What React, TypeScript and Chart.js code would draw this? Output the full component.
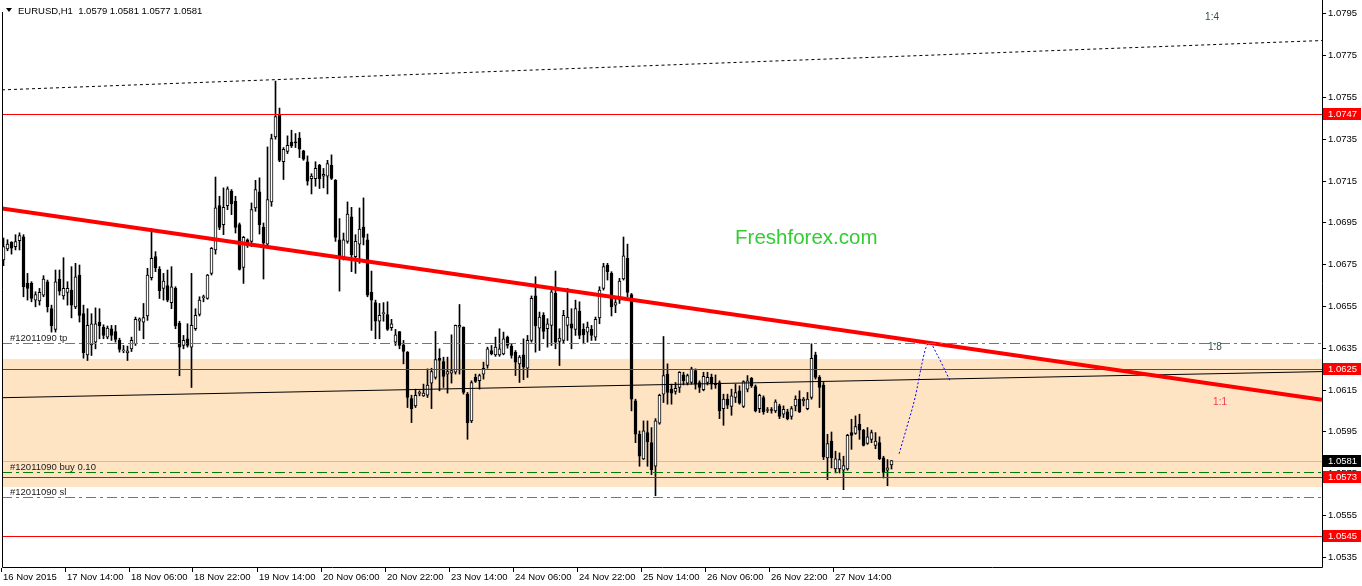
import React, { useEffect, useRef } from 'react';
import { Chart, registerables } from 'chart.js';

Chart.register(...registerables);

// ---------- data ----------
const headerText = 'EURUSD,H1  1.0579 1.0581 1.0577 1.0581';

const opens = [
  1.06770, 1.06823, 1.06855, 1.06834, 1.06863, 1.06881, 1.06658, 1.06658, 1.06578, 1.06574,
  1.06602, 1.06666, 1.06537, 1.06438, 1.06679, 1.06598, 1.06615, 1.06626, 1.06546, 1.06698,
  1.06513, 1.06316, 1.06364, 1.06377, 1.06473, 1.06449, 1.06401, 1.06441, 1.06428, 1.06385,
  1.06335, 1.06326, 1.06345, 1.06369, 1.06477, 1.06473, 1.06502, 1.06685, 1.06786, 1.06725,
  1.06634, 1.06647, 1.06566, 1.06634, 1.06468, 1.06361, 1.06393, 1.06353, 1.06441, 1.06509,
  1.06590, 1.06586, 1.06706, 1.06818, 1.07030, 1.06939, 1.07030, 1.07099, 1.07051, 1.06939,
  1.06735, 1.06867, 1.06859, 1.07019, 1.07096, 1.06928, 1.06846, 1.07048, 1.07359, 1.07465,
  1.07240, 1.07289, 1.07334, 1.07332, 1.07353, 1.07292, 1.07240, 1.07159, 1.07159, 1.07223,
  1.07171, 1.07171, 1.07223, 1.07151, 1.06867, 1.06786, 1.06859, 1.06977, 1.06786, 1.06846,
  1.06928, 1.06867, 1.06615, 1.06566, 1.06477, 1.06513, 1.06509, 1.06446, 1.06377, 1.06428,
  1.06364, 1.06329, 1.06107, 1.06072, 1.06132, 1.06120, 1.06123, 1.06181, 1.06208, 1.06300,
  1.06284, 1.06224, 1.06229, 1.06233, 1.06449, 1.06449, 1.06128, 1.06000, 1.06208, 1.06192,
  1.06224, 1.06265, 1.06337, 1.06316, 1.06316, 1.06321, 1.06401, 1.06358, 1.06329, 1.06273,
  1.06316, 1.06252, 1.06385, 1.06598, 1.06444, 1.06505, 1.06441, 1.06457, 1.06610, 1.06380,
  1.06385, 1.06457, 1.06465, 1.06438, 1.06525, 1.06438, 1.06425, 1.06438, 1.06401, 1.06493,
  1.06634, 1.06746, 1.06706, 1.06554, 1.06578, 1.06679, 1.06778, 1.06605, 1.06096, 1.05936,
  1.05818, 1.05944, 1.05896, 1.05783, 1.05989, 1.06128, 1.06224, 1.06152, 1.06141, 1.06160,
  1.06220, 1.06181, 1.06184, 1.06241, 1.06184, 1.06149, 1.06184, 1.06208, 1.06181, 1.06184,
  1.06059, 1.06104, 1.06069, 1.06112, 1.06144, 1.06069, 1.06152, 1.06204, 1.06164, 1.06059,
  1.06112, 1.06050, 1.06053, 1.06048, 1.06072, 1.06032, 1.06043, 1.06021, 1.06072, 1.06104,
  1.06096, 1.06059, 1.06112, 1.06316, 1.06208, 1.06172, 1.05823, 1.05904, 1.05770, 1.05770,
  1.05764, 1.05770, 1.05944, 1.05940, 1.05984, 1.05956, 1.05892, 1.05912, 1.05883, 1.05896,
  1.05823, 1.05764, 1.05790,
];

const highs = [
  1.06875, 1.06867, 1.06858, 1.06891, 1.06900, 1.06891, 1.06706, 1.06666, 1.06618, 1.06634,
  1.06695, 1.06674, 1.06554, 1.06722, 1.06722, 1.06781, 1.06666, 1.06738, 1.06754, 1.06746,
  1.06554, 1.06537, 1.06513, 1.06541, 1.06537, 1.06460, 1.06454, 1.06457, 1.06457, 1.06396,
  1.06361, 1.06358, 1.06401, 1.06497, 1.06493, 1.06562, 1.06730, 1.06919, 1.06810, 1.06738,
  1.06706, 1.06722, 1.06738, 1.06642, 1.06477, 1.06409, 1.06465, 1.06706, 1.06537, 1.06594,
  1.06602, 1.06701, 1.06830, 1.07167, 1.07075, 1.07115, 1.07120, 1.07107, 1.07075, 1.06947,
  1.06883, 1.06871, 1.07043, 1.07151, 1.07163, 1.06947, 1.07311, 1.07372, 1.07626, 1.07497,
  1.07308, 1.07364, 1.07391, 1.07375, 1.07380, 1.07295, 1.07268, 1.07183, 1.07240, 1.07228,
  1.07208, 1.07247, 1.07273, 1.07155, 1.06968, 1.06899, 1.07048, 1.07022, 1.06891, 1.07019,
  1.07067, 1.06894, 1.06717, 1.06578, 1.06562, 1.06566, 1.06570, 1.06486, 1.06438, 1.06428,
  1.06385, 1.06332, 1.06123, 1.06152, 1.06144, 1.06176, 1.06249, 1.06252, 1.06428, 1.06345,
  1.06305, 1.06305, 1.06412, 1.06459, 1.06557, 1.06450, 1.06136, 1.06192, 1.06224, 1.06224,
  1.06281, 1.06353, 1.06361, 1.06401, 1.06441, 1.06425, 1.06406, 1.06369, 1.06337, 1.06313,
  1.06393, 1.06409, 1.06598, 1.06690, 1.06521, 1.06518, 1.06489, 1.06631, 1.06717, 1.06441,
  1.06529, 1.06634, 1.06537, 1.06578, 1.06570, 1.06465, 1.06473, 1.06457, 1.06497, 1.06642,
  1.06754, 1.06754, 1.06714, 1.06594, 1.06682, 1.06880, 1.06846, 1.06610, 1.06104, 1.05952,
  1.06000, 1.06000, 1.05968, 1.06011, 1.06128, 1.06404, 1.06273, 1.06176, 1.06184, 1.06236,
  1.06233, 1.06224, 1.06257, 1.06249, 1.06192, 1.06233, 1.06233, 1.06224, 1.06220, 1.06192,
  1.06128, 1.06128, 1.06152, 1.06176, 1.06168, 1.06192, 1.06217, 1.06208, 1.06172, 1.06128,
  1.06120, 1.06064, 1.06064, 1.06101, 1.06080, 1.06072, 1.06056, 1.06069, 1.06120, 1.06144,
  1.06112, 1.06136, 1.06369, 1.06329, 1.06217, 1.06184, 1.05936, 1.05947, 1.05855, 1.05847,
  1.05831, 1.05936, 1.06008, 1.06024, 1.06032, 1.05960, 1.05968, 1.05956, 1.05944, 1.05924,
  1.05831, 1.05815, 1.05810,
];

const lows = [
  1.06743, 1.06814, 1.06798, 1.06818, 1.06818, 1.06594, 1.06578, 1.06570, 1.06546, 1.06554,
  1.06594, 1.06521, 1.06425, 1.06425, 1.06602, 1.06582, 1.06554, 1.06493, 1.06537, 1.06473,
  1.06300, 1.06289, 1.06313, 1.06345, 1.06393, 1.06393, 1.06393, 1.06385, 1.06377, 1.06329,
  1.06326, 1.06289, 1.06332, 1.06361, 1.06433, 1.06393, 1.06481, 1.06674, 1.06714, 1.06586,
  1.06578, 1.06570, 1.06537, 1.06441, 1.06216, 1.06345, 1.06353, 1.06160, 1.06433, 1.06502,
  1.06570, 1.06582, 1.06698, 1.06798, 1.06915, 1.06891, 1.07011, 1.06987, 1.06899, 1.06722,
  1.06658, 1.06830, 1.06834, 1.07003, 1.06894, 1.06679, 1.06834, 1.07027, 1.07348, 1.07240,
  1.07155, 1.07279, 1.07308, 1.07308, 1.07260, 1.07247, 1.07128, 1.07086, 1.07123, 1.07112,
  1.07115, 1.07086, 1.07155, 1.06859, 1.06621, 1.06770, 1.06850, 1.06714, 1.06706, 1.06754,
  1.06842, 1.06594, 1.06433, 1.06393, 1.06393, 1.06477, 1.06433, 1.06433, 1.06361, 1.06345,
  1.06273, 1.06064, 1.05992, 1.06064, 1.06120, 1.06117, 1.06112, 1.06059, 1.06200, 1.06144,
  1.06160, 1.06133, 1.06181, 1.06224, 1.06224, 1.06128, 1.05912, 1.05992, 1.06184, 1.06152,
  1.06200, 1.06252, 1.06316, 1.06309, 1.06309, 1.06316, 1.06348, 1.06300, 1.06217, 1.06184,
  1.06197, 1.06208, 1.06377, 1.06329, 1.06337, 1.06393, 1.06353, 1.06361, 1.06345, 1.06265,
  1.06374, 1.06385, 1.06345, 1.06409, 1.06393, 1.06369, 1.06377, 1.06385, 1.06385, 1.06465,
  1.06626, 1.06674, 1.06502, 1.06518, 1.06562, 1.06674, 1.06594, 1.06048, 1.05896, 1.05783,
  1.05815, 1.05783, 1.05743, 1.05642, 1.05984, 1.06088, 1.06080, 1.06080, 1.06128, 1.06136,
  1.06172, 1.06172, 1.06176, 1.06152, 1.06136, 1.06144, 1.06172, 1.06152, 1.06156, 1.06011,
  1.05979, 1.06059, 1.06027, 1.06088, 1.06080, 1.06064, 1.06139, 1.06160, 1.06043, 1.06040,
  1.06032, 1.06040, 1.06037, 1.06040, 1.06011, 1.06016, 1.06005, 1.06008, 1.06048, 1.06040,
  1.06072, 1.06053, 1.06104, 1.06200, 1.06064, 1.05815, 1.05719, 1.05775, 1.05751, 1.05751,
  1.05671, 1.05764, 1.05864, 1.05936, 1.05912, 1.05880, 1.05888, 1.05896, 1.05867, 1.05815,
  1.05727, 1.05690, 1.05770,
];

const closes = [
  1.06834, 1.06846, 1.06826, 1.06858, 1.06887, 1.06642, 1.06634, 1.06586, 1.06605, 1.06615,
  1.06679, 1.06546, 1.06454, 1.06666, 1.06621, 1.06634, 1.06634, 1.06554, 1.06690, 1.06505,
  1.06326, 1.06457, 1.06465, 1.06465, 1.06454, 1.06409, 1.06444, 1.06409, 1.06390, 1.06342,
  1.06336, 1.06335, 1.06385, 1.06486, 1.06489, 1.06494, 1.06698, 1.06778, 1.06733, 1.06623,
  1.06669, 1.06578, 1.06642, 1.06454, 1.06353, 1.06385, 1.06361, 1.06457, 1.06505, 1.06578,
  1.06594, 1.06698, 1.06826, 1.07019, 1.06926, 1.07022, 1.07110, 1.07038, 1.06926, 1.06725,
  1.06878, 1.06839, 1.07011, 1.07107, 1.06939, 1.06850, 1.07059, 1.07351, 1.07456, 1.07247,
  1.07300, 1.07319, 1.07316, 1.07330, 1.07300, 1.07252, 1.07147, 1.07171, 1.07208, 1.07159,
  1.07180, 1.07231, 1.07160, 1.06878, 1.06778, 1.06867, 1.06990, 1.06794, 1.06859, 1.06918,
  1.06878, 1.06602, 1.06578, 1.06477, 1.06505, 1.06515, 1.06438, 1.06465, 1.06412, 1.06361,
  1.06332, 1.06112, 1.06059, 1.06123, 1.06133, 1.06133, 1.06172, 1.06236, 1.06294, 1.06289,
  1.06213, 1.06236, 1.06241, 1.06457, 1.06457, 1.06136, 1.05992, 1.06184, 1.06189, 1.06217,
  1.06252, 1.06345, 1.06321, 1.06353, 1.06345, 1.06393, 1.06361, 1.06313, 1.06281, 1.06305,
  1.06257, 1.06385, 1.06586, 1.06454, 1.06497, 1.06428, 1.06465, 1.06618, 1.06377, 1.06396,
  1.06505, 1.06497, 1.06444, 1.06537, 1.06409, 1.06412, 1.06449, 1.06409, 1.06486, 1.06626,
  1.06738, 1.06714, 1.06546, 1.06566, 1.06669, 1.06790, 1.06615, 1.06104, 1.05936, 1.05831,
  1.05952, 1.05899, 1.05767, 1.06000, 1.06123, 1.06217, 1.06136, 1.06133, 1.06156, 1.06233,
  1.06192, 1.06217, 1.06249, 1.06176, 1.06160, 1.06213, 1.06208, 1.06176, 1.06172, 1.06048,
  1.06104, 1.06075, 1.06120, 1.06136, 1.06085, 1.06188, 1.06192, 1.06168, 1.06048, 1.06123,
  1.06043, 1.06053, 1.06050, 1.06091, 1.06021, 1.06056, 1.06011, 1.06059, 1.06104, 1.06043,
  1.06104, 1.06104, 1.06300, 1.06208, 1.06160, 1.05828, 1.05892, 1.05823, 1.05818, 1.05815,
  1.05786, 1.05931, 1.05931, 1.05973, 1.05956, 1.05883, 1.05924, 1.05944, 1.05904, 1.05819,
  1.05754, 1.05775, 1.05810,
];

const timeLabels = [
  '16 Nov 2015', '17 Nov 14:00', '18 Nov 06:00', '18 Nov 22:00', '19 Nov 14:00',
  '20 Nov 06:00', '20 Nov 22:00', '23 Nov 14:00', '24 Nov 06:00', '24 Nov 22:00',
  '25 Nov 14:00', '26 Nov 06:00', '26 Nov 22:00', '27 Nov 14:00',
];
const barsPerTimeLabel = 16;

const priceTicks = [
  1.0535, 1.0555, 1.0575, 1.0595, 1.0615, 1.0635, 1.0655,
  1.0675, 1.0695, 1.0715, 1.0735, 1.0755, 1.0775, 1.0795,
];

const levelPrices = [1.0747, 1.0625, 1.0573, 1.0545];
const bidPrice = 1.0581;

const orderLabels = ['#12011090 tp', '#12011090 buy 0.10', '#12011090 sl'];
const orderPrices = [1.06371, 1.05755, 1.05634];

const zonePrices = [1.06294, 1.05682];

const redTrendX = [-0.375, 329.625];
const redTrendY = [1.07016, 1.06101];
const blackTrendX = [-0.375, 329.625];
const blackTrendY = [1.06111, 1.06236];
const dottedTrendX = [-0.375, 329.625];
const dottedTrendY = [1.07584, 1.07820];

const forecastX = [223.9, 225.8, 227.9, 229.6, 230.6, 231.6, 233.3, 235.0, 236.6];
const forecastY = [1.05843, 1.05968, 1.06112, 1.06273, 1.06350, 1.06372, 1.06321, 1.06257, 1.06193];

const noteTexts = ['Freshforex.com', '1:4', '1:8', '1:1'];
const noteX = [182.9, 300.4, 301.1, 302.4];
const noteY = [1.06874, 1.07930, 1.06351, 1.06087];

// ---------- layout / style ----------
const W = 1362;
const H = 586;
const X_MIN = -0.375;
const X_MAX = 329.625;
const Y_MIN = 1.05301;
const Y_MAX = 1.08014;
const FONT = '9.5px "Liberation Sans", Arial, sans-serif';
const noteColors = ['#33CC33', '#2F4F4F', '#2F4F4F', '#EE3B55'];
const noteFonts = [
  '20.5px "Liberation Sans", Arial, sans-serif',
  '10px "Liberation Sans", Arial, sans-serif',
  '10px "Liberation Sans", Arial, sans-serif',
  '10px "Liberation Sans", Arial, sans-serif',
];
const orderColors = ['#FF4500', '#008000', '#FF4500'];
const DASHDOT = [10, 4, 3, 4];

const mt4Plugin = {
  id: 'mt4',
  beforeDatasetsDraw(chart: any) {
    const { ctx, chartArea: a } = chart;
    const ys = chart.scales.y;
    ctx.save();
    const t = Math.round(ys.getPixelForValue(zonePrices[0]));
    const b = Math.round(ys.getPixelForValue(zonePrices[1]));
    ctx.fillStyle = '#FFE4C4';
    ctx.fillRect(a.left, t, a.right - a.left, b - t);
    const by = Math.round(ys.getPixelForValue(bidPrice));
    ctx.fillStyle = '#C0C0C0';
    ctx.fillRect(a.left, by, a.right - a.left, 1);
    ctx.restore();
  },
  afterDatasetsDraw(chart: any) {
    const { ctx, chartArea: a } = chart;
    const xs = chart.scales.x;
    const ys = chart.scales.y;
    const pr = (p: number) => Math.round(ys.getPixelForValue(p));
    const py = (p: number) => pr(p) + 0.5;
    ctx.save();
    ctx.lineWidth = 1;

    // horizontal level lines
    ctx.fillStyle = '#FF0000';
    levelPrices.forEach((p) => {
      ctx.fillRect(a.left, pr(p), a.right - a.left, 1);
    });

    // order lines (dash-dot), drawn as pixel segments
    orderPrices.forEach((p, i) => {
      const y = pr(p);
      ctx.fillStyle = orderColors[i];
      let x = a.left;
      let k = 0;
      while (x < a.right) {
        const len = DASHDOT[k % DASHDOT.length];
        if (k % 2 === 0) ctx.fillRect(x, y, Math.min(len, a.right - x), 1);
        x += len;
        k++;
      }
    });

    // order labels
    ctx.font = FONT;
    ctx.fillStyle = '#1A1A1A';
    ctx.textAlign = 'left';
    ctx.textBaseline = 'middle';
    orderLabels.forEach((s, i) => {
      ctx.fillText(s, 10, py(orderPrices[i]) - 5);
    });

    // notes
    noteTexts.forEach((s, i) => {
      ctx.font = noteFonts[i];
      ctx.fillStyle = noteColors[i];
      ctx.fillText(s, xs.getPixelForValue(noteX[i]), ys.getPixelForValue(noteY[i]));
    });

    // header
    ctx.fillStyle = '#000';
    ctx.beginPath();
    ctx.moveTo(6, 8);
    ctx.lineTo(12, 8);
    ctx.lineTo(9, 12);
    ctx.closePath();
    ctx.fill();
    ctx.font = FONT;
    ctx.fillText(headerText, 18, 11);

    // frame
    ctx.strokeStyle = '#000';
    ctx.beginPath();
    ctx.moveTo(2.5, 12);
    ctx.lineTo(2.5, a.bottom + 0.5);
    ctx.lineTo(a.right + 0.5, a.bottom + 0.5);
    ctx.moveTo(a.right + 0.5, 0);
    ctx.lineTo(a.right + 0.5, a.bottom + 0.5);
    ctx.stroke();

    // price axis
    ctx.font = FONT;
    ctx.fillStyle = '#000';
    priceTicks.forEach((p) => {
      const y = py(p);
      ctx.beginPath();
      ctx.moveTo(a.right + 1, y);
      ctx.lineTo(a.right + 4, y);
      ctx.stroke();
      ctx.fillText(p.toFixed(4), a.right + 6, y);
    });

    // time axis
    timeLabels.forEach((s, k) => {
      const cx = Math.round(xs.getPixelForValue(k * barsPerTimeLabel));
      ctx.beginPath();
      ctx.moveTo(cx - 2.5, a.bottom + 1);
      ctx.lineTo(cx - 2.5, a.bottom + 5);
      ctx.stroke();
      ctx.fillStyle = '#000';
      ctx.fillText(s, cx - 1, a.bottom + 10);
    });

    // price tags
    const tag = (p: number, bg: string) => {
      const y = pr(p);
      ctx.fillStyle = bg;
      ctx.fillRect(a.right + 1, y - 6, 38, 12);
      ctx.fillStyle = '#FFF';
      ctx.fillText(p.toFixed(4), a.right + 6, y + 0.5);
    };
    levelPrices.forEach((p) => tag(p, '#FF0000'));
    tag(bidPrice, '#000000');

    ctx.restore();
  },
};

export default function App() {
  const ref = useRef<HTMLCanvasElement | null>(null);

  useEffect(() => {
    document.body.style.margin = '0';
    const canvas = ref.current;
    if (!canvas) return;
    const bodies = opens.map((o, i) => ({ x: i, y: [o, closes[i]] }));
    const wicks = highs.map((h, i) => ({ x: i, y: [lows[i], h] }));
    const bodyColors = opens.map((o, i) => (closes[i] >= o ? '#FFFFFF' : '#000000'));
    const pts = (xsArr: number[], ysArr: number[]) => xsArr.map((x, i) => ({ x, y: ysArr[i] }));

    const chart = new Chart(canvas, {
      type: 'bar',
      data: {
        datasets: [
          {
            type: 'bar',
            data: wicks as any,
            backgroundColor: '#000000',
            borderWidth: 0,
            barThickness: 1,
            grouped: false,
            order: 4,
          } as any,
          {
            type: 'bar',
            data: bodies as any,
            backgroundColor: bodyColors,
            borderColor: '#000000',
            borderWidth: 1,
            borderSkipped: false,
            barThickness: 3,
            minBarLength: 1,
            grouped: false,
            order: 3,
          } as any,
          {
            type: 'line',
            data: pts(dottedTrendX, dottedTrendY) as any,
            borderColor: '#000000',
            borderWidth: 1,
            borderDash: [3, 3],
            pointRadius: 0,
            order: 2,
          } as any,
          {
            type: 'line',
            data: pts(blackTrendX, blackTrendY) as any,
            borderColor: '#000000',
            borderWidth: 1,
            pointRadius: 0,
            order: 2,
          } as any,
          {
            type: 'line',
            data: pts(redTrendX, redTrendY) as any,
            borderColor: '#FF0000',
            borderWidth: 4,
            pointRadius: 0,
            order: 1,
          } as any,
          {
            type: 'line',
            data: pts(forecastX, forecastY) as any,
            borderColor: '#0000FF',
            borderWidth: 1,
            borderDash: [2, 2],
            cubicInterpolationMode: 'monotone',
            pointRadius: 0,
            order: 0,
          } as any,
        ],
      },
      options: {
        responsive: false,
        animation: false,
        devicePixelRatio: 1,
        events: [],
        layout: { padding: { left: 2, right: W - 1322, top: 0, bottom: H - 567 } },
        plugins: { legend: { display: false }, tooltip: { enabled: false } },
        scales: {
          x: { type: 'linear', display: false, min: X_MIN, max: X_MAX, offset: false },
          y: { type: 'linear', display: false, min: Y_MIN, max: Y_MAX },
        },
      } as any,
      plugins: [mt4Plugin],
    });
    return () => chart.destroy();
  }, []);

  return (
    <div style={{ width: W, height: H, background: '#FFFFFF' }}>
      <canvas ref={ref} width={W} height={H} style={{ display: 'block' }} />
    </div>
  );
}
